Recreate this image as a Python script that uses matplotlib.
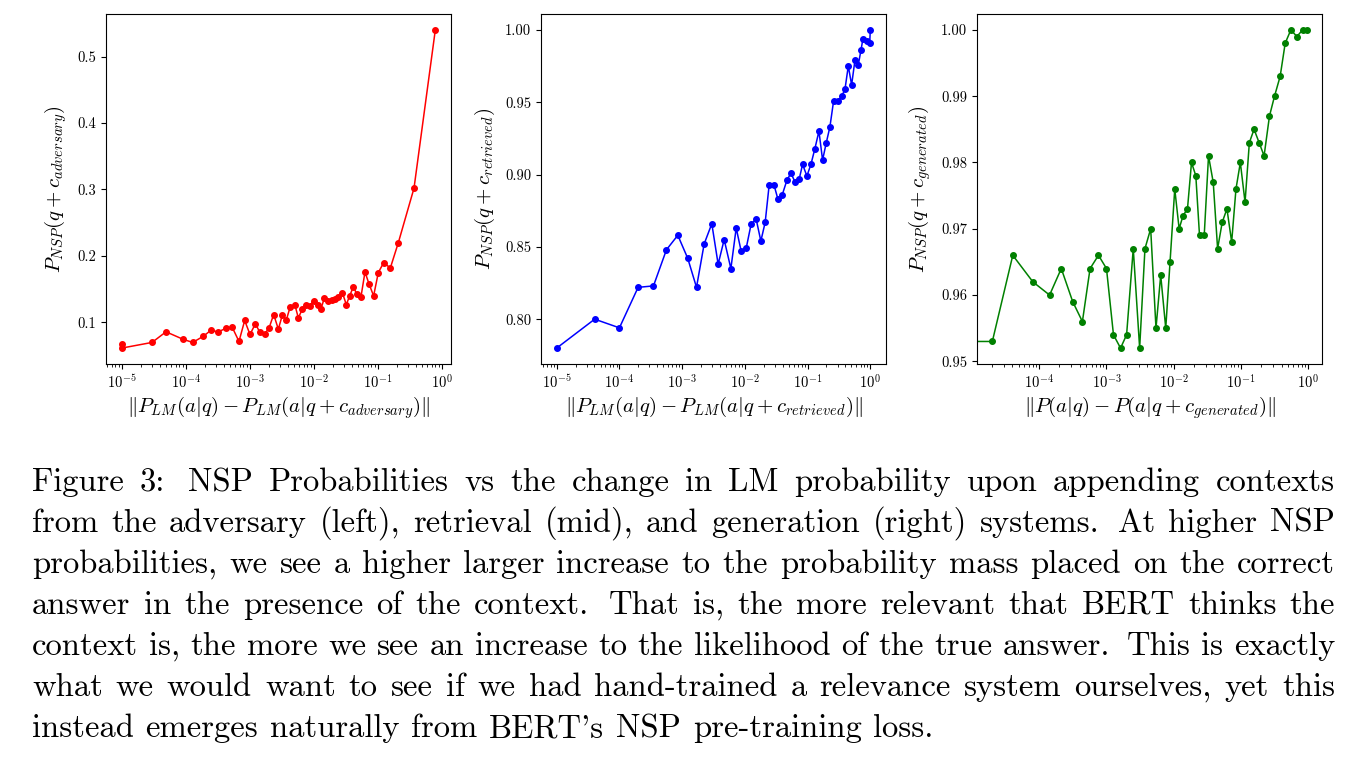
import numpy as np
import matplotlib
matplotlib.use("Agg")
import matplotlib.pyplot as plt

plt.rcParams['font.family'] = 'cmr10'
plt.rcParams['mathtext.fontset'] = 'cm'
plt.rcParams['axes.formatter.use_mathtext'] = True

# left panel: adversary (log10 of x, y)
adv_logx = [-5.0, -5.0, -4.526, -4.307, -4.047, -3.891, -3.729, -3.609, -3.49, -3.365,
            -3.271, -3.167, -3.078, -2.995, -2.911, -2.839, -2.766, -2.698, -2.625, -2.552,
            -2.49, -2.427, -2.365, -2.292, -2.24, -2.177, -2.125, -2.063, -2.0, -1.938,
            -1.885, -1.833, -1.771, -1.719, -1.667, -1.615, -1.552, -1.49, -1.437, -1.38,
            -1.328, -1.26, -1.198, -1.135, -1.063, -0.99, -0.906, -0.802, -0.677, -0.432, -0.099]
adv_y = [0.0675, 0.0615, 0.070, 0.086, 0.075, 0.070, 0.079, 0.088, 0.086, 0.0915,
         0.0925, 0.0715, 0.103, 0.082, 0.098, 0.085, 0.083, 0.0915, 0.112, 0.090,
         0.111, 0.104, 0.124, 0.126, 0.107, 0.120, 0.126, 0.125, 0.133, 0.126,
         0.1205, 0.137, 0.133, 0.1335, 0.136, 0.139, 0.145, 0.127, 0.140, 0.154,
         0.143, 0.139, 0.176, 0.158, 0.140, 0.175, 0.190, 0.182, 0.220, 0.302, 0.540]

# middle panel: retrieved
ret_logx = [-5.0, -4.394, -4.0, -3.702, -3.457, -3.25, -3.069, -2.91, -2.771, -2.649,
            -2.527, -2.426, -2.33, -2.223, -2.138, -2.059, -1.979, -1.899, -1.819, -1.745,
            -1.676, -1.612, -1.537, -1.473, -1.404, -1.33, -1.266, -1.202, -1.133, -1.08,
            -1.011, -0.947, -0.883, -0.819, -0.761, -0.702, -0.644, -0.585, -0.516, -0.457,
            -0.404, -0.351, -0.298, -0.245, -0.191, -0.149, -0.117, -0.053, -0.01, 0.0]
ret_y = [0.780, 0.800, 0.794, 0.822, 0.823, 0.848, 0.858, 0.842, 0.822, 0.852,
         0.866, 0.838, 0.855, 0.835, 0.863, 0.847, 0.849, 0.866, 0.869, 0.854,
         0.867, 0.893, 0.893, 0.883, 0.886, 0.896, 0.901, 0.895, 0.897, 0.907,
         0.899, 0.907, 0.918, 0.930, 0.910, 0.922, 0.933, 0.951, 0.951, 0.954,
         0.959, 0.975, 0.962, 0.979, 0.976, 0.986, 0.994, 0.992, 0.991, 1.000]

# right panel: generated
gen_logx = [-6.0, -4.697, -4.393, -4.095, -3.846, -3.672, -3.502, -3.358, -3.244, -3.119,
            -3.0, -2.896, -2.791, -2.701, -2.602, -2.507, -2.428, -2.343, -2.264, -2.194,
            -2.119, -2.055, -1.985, -1.92, -1.861, -1.796, -1.736, -1.672, -1.617, -1.547,
            -1.483, -1.413, -1.348, -1.279, -1.209, -1.139, -1.075, -1.01, -0.94, -0.876,
            -0.806, -0.731, -0.657, -0.577, -0.502, -0.418, -0.343, -0.259, -0.169, -0.085, -0.015]
gen_y = [0.953, 0.953, 0.966, 0.962, 0.960, 0.964, 0.959, 0.956, 0.964, 0.966,
         0.964, 0.954, 0.952, 0.954, 0.967, 0.952, 0.967, 0.970, 0.955, 0.963,
         0.955, 0.965, 0.976, 0.970, 0.972, 0.973, 0.980, 0.978, 0.969, 0.969,
         0.981, 0.977, 0.967, 0.971, 0.973, 0.968, 0.976, 0.980, 0.974, 0.983,
         0.985, 0.983, 0.981, 0.987, 0.990, 0.993, 0.998, 1.000, 0.999, 1.000, 1.000]

panels = [
    (adv_logx, adv_y, 'red', r'$P_{NSP}(q + c_{adversary})$',
     r'$\|P_{LM}(a|q) - P_{LM}(a|q + c_{adversary})\|$', [0.1, 0.2, 0.3, 0.4, 0.5], None),
    (ret_logx, ret_y, 'blue', r'$P_{NSP}(q + c_{retrieved})$',
     r'$\|P_{LM}(a|q) - P_{LM}(a|q + c_{retrieved})\|$', [0.80, 0.85, 0.90, 0.95, 1.00], None),
    (gen_logx, gen_y, 'green', r'$P_{NSP}(q + c_{generated})$',
     r'$\|P(a|q) - P(a|q + c_{generated})\|$', [0.95, 0.96, 0.97, 0.98, 0.99, 1.00],
     (10 ** -4.925, 10 ** 0.204)),
]

W, H = 1367, 758
fig = plt.figure(figsize=(W / 100, H / 100), dpi=100)
lefts = [106, 541, 977]
for (lx, yv, col, ylab, xlab, yt, xl), left in zip(panels, lefts):
    ax = fig.add_axes([left / W, (H - 364) / H, 345 / W, 350 / H])
    ax.plot(10 ** np.array(lx), yv, '-o', color=col, lw=1.1, ms=4)
    ax.set_xscale('log')
    if xl is not None:
        ax.set_xlim(*xl)
    ax.set_yticks(yt)
    ax.set_yticklabels(['%g' % v if len(str(yt[1])) < 4 else '%.2f' % v for v in yt])
    ax.tick_params(labelsize=10.5)
    ax.set_ylabel(ylab, fontsize=15, labelpad=6)
    ax.set_xlabel(xlab, fontsize=15, labelpad=2)

lines = [
    "Figure 3:  NSP Probabilities vs the change in LM probability upon appending contexts",
    "from the adversary (left), retrieval (mid), and generation (right) systems.  At higher NSP",
    "probabilities, we see a higher larger increase to the probability mass placed on the correct",
    "answer in the presence of the context.  That is, the more relevant that BERT thinks the",
    "context is, the more we see an increase to the likelihood of the true answer.  This is exactly",
    "what we would want to see if we had hand-trained a relevance system ourselves, yet this",
    "instead emerges naturally from BERT's NSP pre-training loss.",
]
fs = 23.5
fig.canvas.draw()
r = fig.canvas.get_renderer()
x0, x1 = 32, 1335
for i, line in enumerate(lines):
    base = 491 + 41 * i
    # double space after a sentence gets a wider gap, like TeX
    chunks = line.split('  ')
    words, weights = [], []
    for j, c in enumerate(chunks):
        ws = c.split()
        for k, w in enumerate(ws):
            words.append(w)
            weights.append(1.5 if (k == 0 and j > 0) else 1.0)
    weights = weights[1:]
    objs = [fig.text(0, 1 - base / H, w, fontsize=fs, va='baseline') for w in words]
    widths = [o.get_window_extent(r).width for o in objs]
    if i < len(lines) - 1:
        gap = (x1 - x0 - sum(widths)) / sum(weights)
    else:
        gap = 0.36 * fs * 100 / 72
    x = x0
    for n, (o, w) in enumerate(zip(objs, widths)):
        o.set_x(x / W)
        if n < len(weights):
            x += w + gap * weights[n]

fig.savefig('out.png', dpi=100)
